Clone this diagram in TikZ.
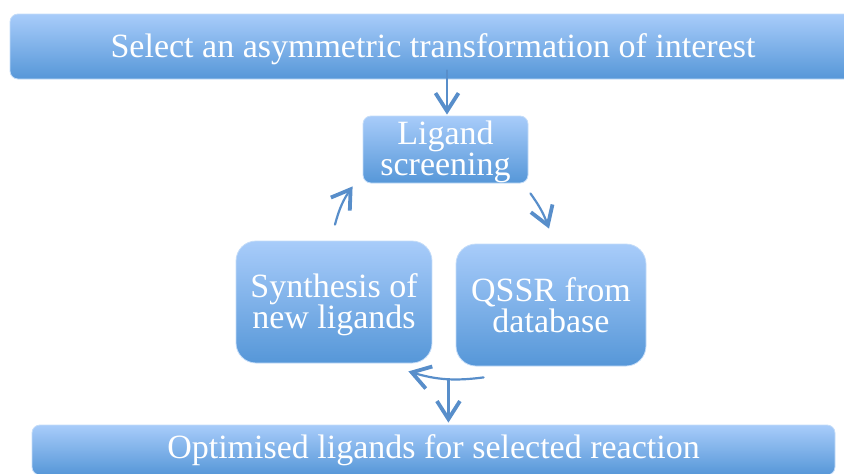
\documentclass[tikz,border=0pt]{standalone}
\usepackage{fontspec}
\setmainfont{Liberation Serif}
\usetikzlibrary{arrows.meta}
\definecolor{boxtop}{RGB}{168,204,250}
\definecolor{boxbot}{RGB}{86,151,216}
\definecolor{arr}{RGB}{88,142,202}
\definecolor{edge}{RGB}{196,220,248}
\begin{document}
\begin{tikzpicture}[x=1pt,y=-1pt,
  box/.style={rectangle, top color=boxtop, bottom color=boxbot, draw=edge, line width=0.8pt, inner sep=0pt},
  lbl/.style={text=white, align=center, font=\fontsize{34}{31}\selectfont, inner sep=0pt},
  flow/.style={draw=arr, line width=2.2pt, line cap=round,
    -{Straight Barb[length=18pt,width=23pt,line width=3.8pt]}}]
\useasboundingbox (0,0) rectangle (844,474);
\clip (0,0) rectangle (844,474);
\node[box, rounded corners=8pt, minimum width=846pt, minimum height=65pt] (sel) at (433,46.5) {};
\node[lbl] (selt) at ([yshift=-3pt]sel.center) {Select an asymmetric transformation of interest};
\node[box, rounded corners=8pt, minimum width=165pt, minimum height=67pt] (lig) at (445.5,149.5) {};
\node[lbl] (ligt) at ([yshift=-2pt]lig.center) {Ligand\\screening};
\node[box, rounded corners=20pt, minimum width=196pt, minimum height=122pt] (syn) at (334,302) {};
\node[lbl] (synt) at ([yshift=-3pt]syn.center) {Synthesis of\\new ligands};
\node[box, rounded corners=20pt, minimum width=190pt, minimum height=122pt] (qssr) at (551,305) {};
\node[lbl] (qssrt) at ([yshift=-0.5pt]qssr.center) {QSSR from\\database};
\node[box, rounded corners=8pt, minimum width=803pt, minimum height=50pt] (opt) at (433.5,450) {};
\node[lbl] (optt) at ([yshift=0pt]opt.center) {Optimised ligands for selected reaction};
\draw[flow] ([xshift=1.5pt,yshift=9pt]sel.south -| lig.north) -- ([xshift=1.5pt,yshift=1pt]lig.north);
\draw[flow] ([xshift=1pt,yshift=16pt]syn.north) to[bend left=10] ([xshift=-10pt,yshift=-3pt]lig.south west);
\draw[flow] ([xshift=2pt,yshift=-10pt]lig.south east) to[bend left=8] ([xshift=-2pt,yshift=15pt]qssr.north);
\draw[flow] ([xshift=28pt,yshift=-11pt]qssr.south west) to[bend left=12] coordinate[pos=0.46] (mid) ([xshift=-24pt,yshift=-8pt]syn.south east);
\draw[flow] (mid) -- ([yshift=2pt]mid |- opt.north);
\end{tikzpicture}
\end{document}
